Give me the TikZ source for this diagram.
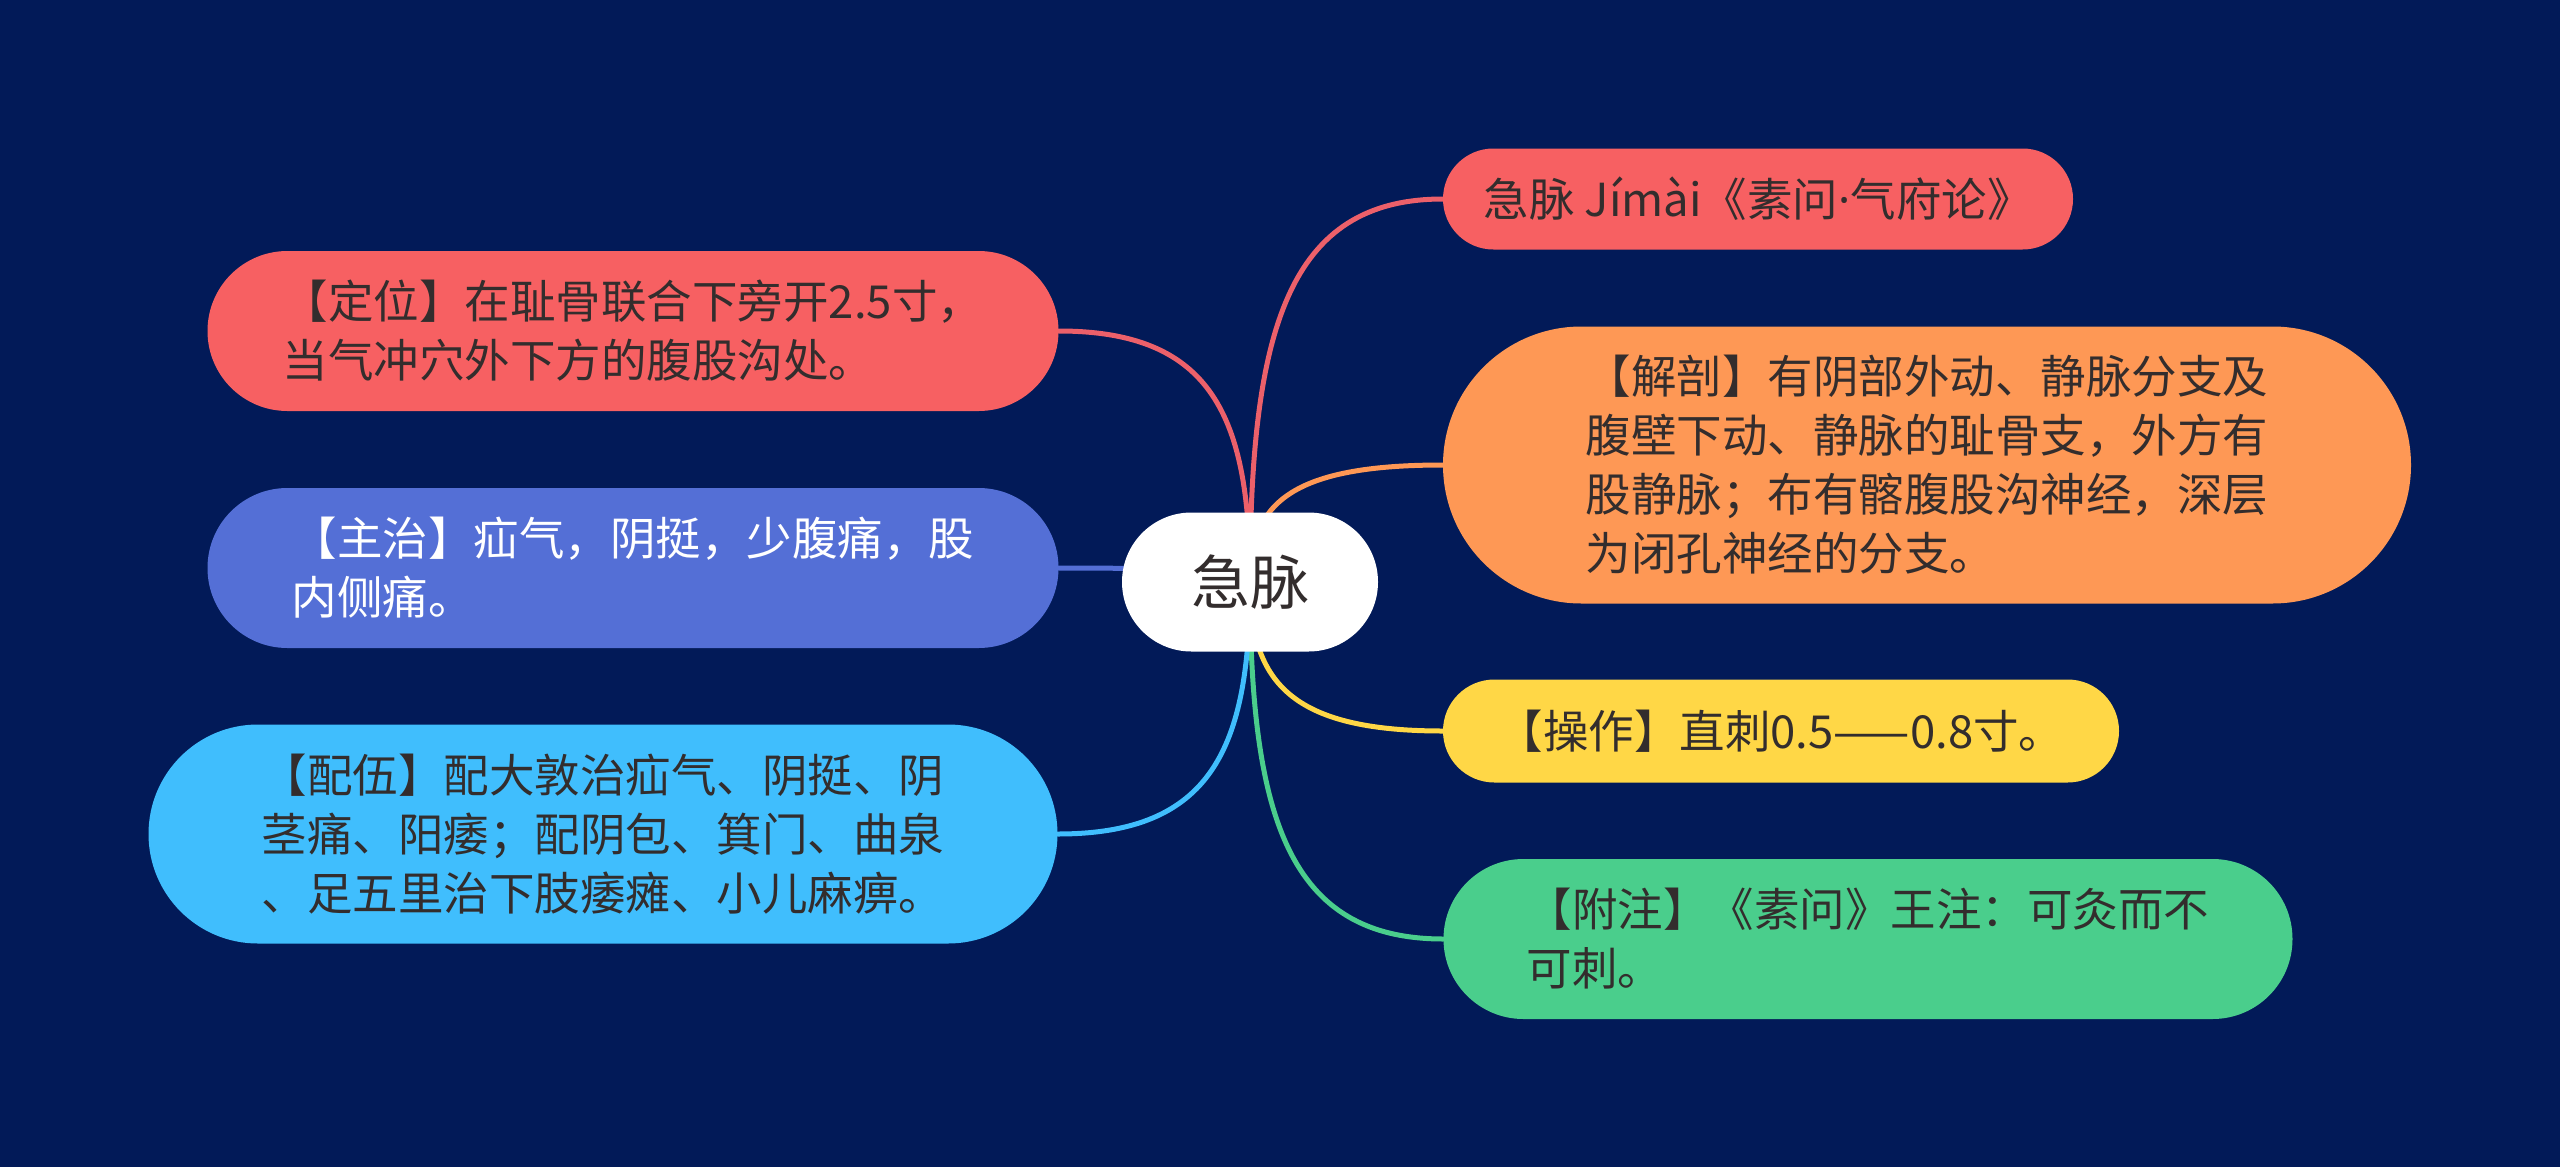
\documentclass[tikz,border=0pt]{standalone}
\usepackage{fontspec}
\newfontfamily\cjk{Noto Sans CJK SC}
\newfontfamily\latinf{Noto Sans}
\usetikzlibrary{calc}
\definecolor{bgc}{RGB}{2,26,88}
\definecolor{cred}{RGB}{247,96,98}
\definecolor{lred}{RGB}{236,96,106}
\definecolor{corange}{RGB}{254,152,85}
\definecolor{cyellow}{RGB}{255,215,70}
\definecolor{cgreen}{RGB}{74,206,140}
\definecolor{cpurple}{RGB}{84,111,214}
\definecolor{cblue}{RGB}{64,190,253}
\definecolor{txt}{RGB}{51,45,45}
\pgfdeclarelayer{bg}
\pgfdeclarelayer{back}
\pgfsetlayers{back,bg,main}
\tikzset{
  pill/.style={rectangle, inner sep=0pt, align=left, text=txt,
    font=\cjk\fontsize{45.5}{59}\selectfont},
  link/.style={line width=5pt, line cap=round},
}
\begin{document}
\begin{tikzpicture}[x=1pt,y=-1pt]
\begin{pgfonlayer}{back}
\fill[bgc] (0,0) rectangle (2560,1167);
\end{pgfonlayer}
\useasboundingbox (0,0) rectangle (2560,1167);

\node[rectangle, fill=white, minimum width=256pt, minimum height=139pt, rounded corners=69.4pt,
  text=txt, font=\cjk\fontsize{59}{70}\selectfont] (c) at (1250,582) {急脉};

\node[pill, fill=cred, minimum width=630pt, minimum height=101pt, rounded corners=50.4pt] (r1) at (1758,199)
  {急脉 Jímài《素问{\latinf·}气府论》};
\node[pill, fill=corange, minimum width=968pt, minimum height=277pt, rounded corners=138.4pt] (r2) at (1927,465)
  {【解剖】有阴部外动、静脉分支及\\腹壁下动、静脉的耻骨支，外方有\\股静脉；布有髂腹股沟神经，深层\\为闭孔神经的分支。};
\node[pill, fill=cyellow, minimum width=676pt, minimum height=103pt, rounded corners=51.4pt] (r3) at (1781,731)
  {【操作】直刺0.5——0.8寸。};
\node[pill, fill=cgreen, minimum width=849pt, minimum height=160pt, rounded corners=79.9pt] (r4) at (1868,939)
  {【附注】《素问》王注：可灸而不\\可刺。};

\node[pill, fill=cred, minimum width=851pt, minimum height=160pt, rounded corners=79.9pt] (l1) at (633,331)
  {【定位】在耻骨联合下旁开2.5寸，\\当气冲穴外下方的腹股沟处。};
\node[pill, fill=cpurple, text=white, minimum width=851pt, minimum height=160pt, rounded corners=79.9pt] (l2) at (633,568)
  {【主治】疝气，阴挺，少腹痛，股\\内侧痛。};
\node[pill, fill=cblue, minimum width=909pt, minimum height=219pt, rounded corners=109.4pt] (l3) at (603,834)
  {【配伍】配大敦治疝气、阴挺、阴\\茎痛、阳痿；配阴包、箕门、曲泉\\、足五里治下肢痿瘫、小儿麻痹。};

\begin{pgfonlayer}{bg}
\foreach \n/\col/\a in {r1/lred/west, r2/corange/west, r3/cyellow/west, r4/cgreen/west,
                        l1/lred/east, l2/cpurple/east, l3/cblue/east}{
  \draw[link, draw=\col] (c.center) .. controls ($(c.center)!0.66!(c.center|-\n.\a)$)
    and ($(c.center|-\n.\a)!0.2!(\n.\a)$) .. (\n.\a);
}
\end{pgfonlayer}
\end{tikzpicture}
\end{document}
